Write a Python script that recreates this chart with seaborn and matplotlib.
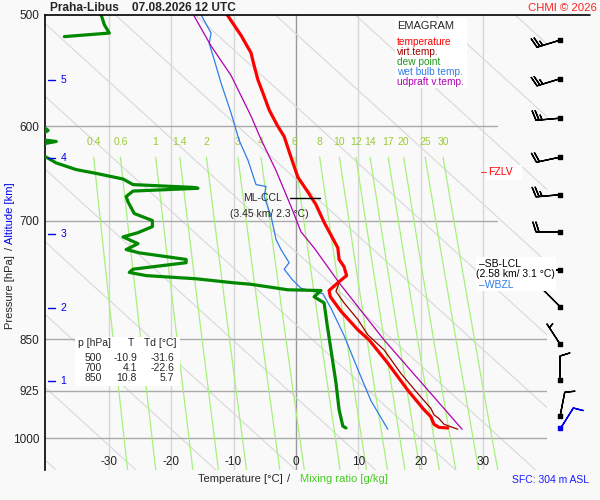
import numpy as np
import pandas as pd
import matplotlib
matplotlib.use("Agg")
import matplotlib.pyplot as plt
from matplotlib.patches import Rectangle
from matplotlib.ticker import FixedLocator, FixedFormatter, NullLocator
import seaborn as sns

# --- sounding (p in hPa, temperatures in degC) ---
temp_p = [500, 517, 532, 539, 556, 568, 584, 599, 610, 631, 652, 668, 682, 702, 732,
          746, 755, 766, 775, 785, 793, 812, 837, 851, 884, 924, 954, 965, 977, 982, 983]
temp_t = [-11.0, -8.8, -7.2, -6.9, -6.1, -5.3, -4.3, -3.0, -1.9, -0.8, 0.3, 1.9, 3.2, 4.5, 6.7,
          6.9, 7.7, 8.1, 6.7, 5.3, 5.5, 7.2, 9.9, 11.7, 14.7, 17.9, 20.5, 21.6, 22.1, 22.9, 24.3]

virt_p = [775, 786, 801, 823, 844, 865, 899, 929, 952, 962, 968, 977, 985]
virt_t = [6.9, 6.4, 7.7, 9.9, 11.5, 14.1, 16.8, 19.5, 21.6, 22.1, 22.9, 23.7, 25.9]

parcel_p = [501, 526, 552, 590, 613, 645, 684, 713, 733, 775, 851, 985]
parcel_t = [-16.3, -13.6, -10.4, -7.2, -5.6, -3.2, -0.8, 0.8, 3.0, 6.9, 14.1, 26.6]

wetbulb_p = [500, 515, 524, 538, 559, 587, 614, 634, 660, 662, 673, 695, 722, 734, 750,
             758, 771, 782, 789, 808, 845, 893, 940, 985]
wetbulb_t = [-15.2, -13.6, -13.9, -13.1, -12.0, -10.4, -9.1, -7.7, -6.4, -4.8, -5.1, -4.0,
             -3.2, -2.4, -1.1, -1.9, -0.6, 0.8, 4.3, 5.6, 7.7, 9.9, 12.0, 14.7]

# dew point has a gap (too dry, below the chart) between ~520 and ~600 hPa
dew_top_p = [500, 508, 515, 518]
dew_top_t = [-31.2, -30.7, -29.9, -37.1]
dew_low_p = [598, 604, 609, 613, 615, 618, 629, 631, 637, 644, 648, 654, 660, 663, 664, 667,
             673, 679, 692, 700, 707, 714, 719, 727, 734, 738, 746, 750, 758, 762, 766, 770,
             775, 777, 784, 785, 793, 801, 831, 865, 913, 954, 980, 983]
dew_low_t = [-41.0, -39.7, -41.0, -41.0, -38.4, -41.0, -41.0, -40.0, -38.4, -35.2, -32.0, -27.7,
             -26.1, -16.5, -15.7, -26.1, -27.2, -26.9, -25.9, -23.0, -23.0, -25.3, -27.7, -25.3,
             -27.2, -25.1, -17.6, -17.6, -26.1, -26.7, -24.0, -16.0, -10.1, -7.2, -1.3, 4.0,
             2.9, 4.5, 5.0, 5.6, 6.4, 6.9, 7.5, 8.0]

# winds (direction deg, speed kt)
wind_p = [521, 555, 592, 631, 671, 713, 759, 806, 857, 909, 964, 983]
wind_dir = [253, 253, 265, 258, 265, 270, 270, 315, 327, 360, 11, 32]
wind_spd = [25, 25, 25, 20, 25, 20, 20, 10, 5, 10, 10, 10]

p_ticks = [500, 600, 700, 850, 925, 1000]
t_ticks = [-30, -20, -10, 0, 10, 20, 30]
alt_km = [5, 4, 3, 2, 1]
alt_p = [556, 632, 715, 808, 910]
mix_ratios = [0.4, 0.6, 1, 1.4, 2, 3, 4, 6, 8, 10, 12, 14, 17, 20, 25, 30]

table_p = [500, 700, 850]
table_t = [-10.9, 4.1, 10.8]
table_td = [-31.6, -22.6, 5.7]

BG = "#f9f9f9"
C_T = "#ff0000"
C_VT = "#990000"
C_TD = "#008800"
C_WB = "#2f7de8"
C_PAR = "#b000b0"
C_MIX = "#a8f07e"
C_MIXTXT = "#99cc33"

sns.set_style("white")
plt.rcParams["font.family"] = ["Liberation Sans", "DejaVu Sans"]

fig = plt.figure(figsize=(6, 5), dpi=100, facecolor=BG)
ax = fig.add_axes([45 / 600, 30 / 500, 502 / 600, 455 / 500])
ax.set_facecolor(BG)
ax.set_yscale("log")
XMIN, XMAX = -40.2, 40.2
PBOT = 1053
ax.set_xlim(XMIN, XMAX)
ax.set_ylim(PBOT, 500)


def ftxt(x, y, s, **kw):
    # place text by pixel position in the 600x500 figure
    return fig.text(x / 600, 1 - y / 500, s, **kw)


def fbox(x0, y0, x1, y1):
    fig.add_artist(Rectangle((x0 / 600, 1 - y1 / 500), (x1 - x0) / 600, (y1 - y0) / 500,
                             transform=fig.transFigure, facecolor="white",
                             edgecolor="none", zorder=3))


# spines / frame
for s in ["right", "bottom", "top"]:
    ax.spines[s].set_visible(False)
ax.spines["left"].set_color("black")
ax.spines["left"].set_linewidth(1.2)
ax.plot([XMIN, 47.1], [500, 500], color="black", lw=1.2, clip_on=False, zorder=6)

# y ticks
ax.yaxis.set_major_locator(FixedLocator(p_ticks))
ax.yaxis.set_major_formatter(FixedFormatter([str(p) for p in p_ticks]))
ax.yaxis.set_minor_locator(NullLocator())
ax.tick_params(axis="y", length=0, pad=4, labelsize=8.5, labelcolor="#222222")
ax.set_xticks([])

# isotherms and isobars
for t in t_ticks:
    ax.plot([t, t], [500, PBOT], color="#999999" if t == 0 else "#d6d6d6", lw=1, zorder=1)
for p in p_ticks[1:]:
    xr = 32.2 if p < 800 else XMAX
    ax.plot([XMIN, xr], [p, p], color="#aaaaaa", lw=1, zorder=1.2)

# light diagonal guide lines
p_line = np.geomspace(500, PBOT, 20)
for t0 in np.arange(-118.5, 45, 12.8):
    ax.plot(t0 + 107.5 * np.log(p_line / 500), p_line, color="#d8d8d8", lw=0.8, zorder=1)

# mixing ratio lines
p_mix = np.geomspace(631, PBOT, 40)
for w in mix_ratios:
    e = (w / 1000) * p_mix / (0.622 + w / 1000)
    le = np.log(e / 6.112)
    td = 243.5 * le / (17.67 - le)
    ax.plot(td, p_mix, color=C_MIX, lw=0.9, zorder=1.5)
    ax.text(td[0], 616, f"{w:g}", color=C_MIXTXT, fontsize=7.5, ha="center", va="center")

# bottom temperature labels drawn inside the plot
for t in t_ticks:
    ax.text(t, 1039, str(t), ha="center", va="center", fontsize=8.5, color="#222222")

# altitude marks
for km, p in zip(alt_km, alt_p):
    ax.plot([-39.7, -38.6], [p, p], color="#0000ee", lw=1, zorder=4)
    ax.text(-37.7, p, str(km), color="#0000ee", fontsize=7.5, va="center", ha="left")

# profiles
df_wb = pd.DataFrame({"p": wetbulb_p, "t": wetbulb_t})
sns.lineplot(data=df_wb, x="t", y="p", sort=False, estimator=None, color=C_WB, lw=0.9, ax=ax, zorder=3)
df_par = pd.DataFrame({"p": parcel_p, "t": parcel_t})
sns.lineplot(data=df_par, x="t", y="p", sort=False, estimator=None, color=C_PAR, lw=0.9, ax=ax, zorder=3)
df_vt = pd.DataFrame({"p": virt_p, "t": virt_t})
sns.lineplot(data=df_vt, x="t", y="p", sort=False, estimator=None, color=C_VT, lw=0.9, ax=ax, zorder=3.2)
df_t = pd.DataFrame({"p": temp_p, "t": temp_t})
sns.lineplot(data=df_t, x="t", y="p", sort=False, estimator=None, color=C_T, lw=2.3, ax=ax, zorder=3.4)
df_td = pd.DataFrame({"p": dew_top_p + dew_low_p, "t": dew_top_t + dew_low_t,
                      "seg": [0] * len(dew_top_p) + [1] * len(dew_low_p)})
sns.lineplot(data=df_td, x="t", y="p", units="seg", sort=False, estimator=None,
             color=C_TD, lw=2.3, ax=ax, zorder=3.4)
ax.set_xlim(XMIN, XMAX)
ax.set_ylim(PBOT, 500)
ax.set_xlabel("")
ax.set_ylabel("")

# wind barbs on the right
rad = np.deg2rad(wind_dir)
u = -np.array(wind_spd) * np.sin(rad)
v = -np.array(wind_spd) * np.cos(rad)
xb = np.full(len(wind_p), 42.3)
ax.barbs(xb[:-1], wind_p[:-1], u[:-1], v[:-1], length=5.9, pivot="tip", color="black",
         lw=1, clip_on=False, zorder=5)
ax.barbs(xb[-1:], wind_p[-1:], u[-1:], v[-1:], length=5.9, pivot="tip", color="#0000ee",
         lw=1, clip_on=False, zorder=5)
ax.scatter(xb[:-1], wind_p[:-1], marker="s", s=7, color="black", clip_on=False, zorder=6)
ax.scatter(xb[-1:], wind_p[-1:], marker="s", s=7, color="#0000ee", clip_on=False, zorder=6)

# ML-CCL
ax.plot([-1.0, 3.9], [675, 675], color="black", lw=1, zorder=4)
ax.text(-5.3, 675, "ML-CCL", fontsize=7.5, ha="center", va="center", zorder=4)
ax.text(-4.3, 692, "(3.45 km/ 2.3 °C)", fontsize=7.5, ha="center", va="center", zorder=4)

# level marks on the right
fbox(486, 165, 522, 180)
ftxt(481, 172, "–", color=C_T, fontsize=7.5, va="center", zorder=4)
ftxt(488, 172, "FZLV", color=C_T, fontsize=7.5, va="center", zorder=4)
fbox(476, 257, 556, 291)
ftxt(479, 264, "–SB-LCL", color="black", fontsize=7.5, va="center", zorder=4)
ftxt(476, 274, "(2.58 km/ 3.1 °C)", color="black", fontsize=7.5, va="center", zorder=4)
ftxt(479, 285, "–WBZL", color=C_WB, fontsize=7.5, va="center", zorder=4)

# legend box
fbox(395, 18, 467, 88)
ftxt(397, 26, "EMAGRAM", fontsize=8, va="center", zorder=4)
legend_items = [("temperature", C_T), ("virt.temp.", "#a00000"), ("dew point", "#1f9a1f"),
                ("wet bulb temp.", C_WB), ("udpraft v.temp.", C_PAR)]
for i, (lab, col) in enumerate(legend_items):
    ftxt(397, 42 + 10 * i, lab, color=col, fontsize=7.3, va="center", zorder=4)

# small table
fbox(75, 337, 180, 386)
ftxt(78, 343, "p [hPa]", fontsize=7.5, va="center", zorder=4)
ftxt(128, 343, "T", fontsize=7.5, va="center", zorder=4)
ftxt(144, 343, "Td [°C]", fontsize=7.5, va="center", zorder=4)
for i, (p, t, td) in enumerate(zip(table_p, table_t, table_td)):
    y = 358 + 10 * i
    ftxt(102, y, str(p), fontsize=7.5, va="center", ha="right", zorder=4)
    ftxt(137, y, f"{t:.1f}", fontsize=7.5, va="center", ha="right", zorder=4)
    ftxt(174, y, f"{td:.1f}", fontsize=7.5, va="center", ha="right", zorder=4)

# titles and axis labels
ftxt(50, 8, "Praha-Libus    07.08.2026 12 UTC", fontsize=8.6, fontweight="bold", va="center")
ftxt(597, 8, "CHMI © 2026", color="#ff2020", fontsize=8.2, ha="right", va="center")
ftxt(240, 479, "Temperature [°C]", fontsize=8, ha="center", va="center")
ftxt(289, 479, "/", fontsize=8, ha="center", va="center")
ftxt(344, 479, "Mixing ratio [g/kg]", fontsize=8, ha="center", va="center", color="#44cc22")
ftxt(551, 480, "SFC: 304 m ASL", fontsize=7.5, ha="center", va="center", color="#1a1aff")
ftxt(10, 292, "Pressure [hPa]", fontsize=8, rotation=90, ha="center", va="center")
ftxt(10, 248, "/", fontsize=8, rotation=90, ha="center", va="center")
ftxt(10, 213, "Altitude [km]", fontsize=8, rotation=90, ha="center", va="center", color="#0000ee")

fig.savefig("out.png", dpi=100, facecolor=BG)
